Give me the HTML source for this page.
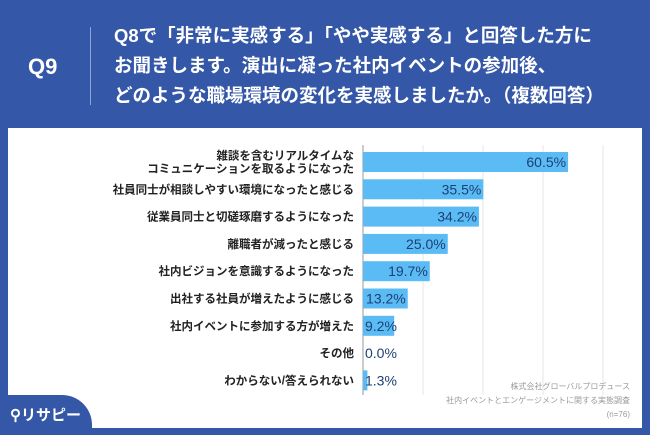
<!DOCTYPE html>
<html><head><meta charset="utf-8"><style>
body{margin:0;width:650px;height:435px;background:#3557a7;position:relative;overflow:hidden;font-family:"Liberation Sans","Noto Sans CJK JP",sans-serif}
.hdr{position:absolute;color:#fff;font-weight:bold}
</style></head><body>
<div class="hdr" style="left:28px;top:54px;font-size:22px">Q9</div>
<div style="position:absolute;left:90px;top:27px;width:1px;height:78px;background:#8fa3d3"></div>
<div class="hdr" style="left:114px;top:21px;font-size:18.5px;line-height:30px;white-space:nowrap">Q8で「非常に実感する」「やや実感する」と回答した方に<br>お聞きします。演出に凝った社内イベントの参加後、<br>どのような職場環境の変化を実感しましたか。（複数回答）</div>
<div style="position:absolute;left:8px;top:128px;width:634px;height:300px;background:#fff"></div>
<svg id="chart" width="650" height="435" style="position:absolute;left:0;top:0"></svg>
<div style="position:absolute;left:0;top:395px;width:92px;height:40px;background:#3557a7;border-top-right-radius:30px"></div>
<div style="position:absolute;left:10px;top:404px;color:#fff;font-size:15px;font-weight:bold">⚲リサピー</div>
<div style="position:absolute;right:20px;top:380px;text-align:right;color:#999;font-size:8px;line-height:14px">株式会社グローバルプロデュース<br>社内イベントとエンゲージメントに関する実態調査<br>(n=76)</div>
<script>
const categories=["雑談を含むリアルタイムな\nコミュニケーションを取るようになった","社員同士が相談しやすい環境になったと感じる","従業員同士と切磋琢磨するようになった","離職者が減ったと感じる","社内ビジョンを意識するようになった","出社する社員が増えたように感じる","社内イベントに参加する方が増えた","その他","わからない/答えられない"];
const values=[60.5,35.5,34.2,25.0,19.7,13.2,9.2,0.0,1.3];
const labels=["60.5%","35.5%","34.2%","25.0%","19.7%","13.2%","9.2%","0.0%","1.3%"];
const gridTicks=[0,17.7,35.4,53.1,70.8];
const svg=document.getElementById('chart');const NS="http://www.w3.org/2000/svg";
const x0=363,k=3.39,y0=152,step=27.3,bh=20;
const xs=v=>x0+v*k, ys=i=>y0+i*step;
function mk(t,a){const e=document.createElementNS(NS,t);for(const n in a)e.setAttribute(n,a[n]);svg.appendChild(e);return e;}
gridTicks.forEach((g,i)=>{const l=mk('line',{x1:xs(g),x2:xs(g),y1:145,y2:395,stroke:i?'#e4e4e4':'#999','stroke-width':1});

});
values.forEach((v,i)=>{
const r=mk('rect',{x:x0,y:ys(i),width:v*k,height:bh,fill:'#5bbcf5'});


const w=v*k;const tx=w>40?xs(v)-2:x0+2;
const t=mk('text',{x:tx,y:ys(i)+bh/2+5,'text-anchor':w>40?'end':'start','font-size':14,fill:'#1d3f73'});t.textContent=labels[i];


const lines=categories[i].split('\n');
lines.forEach((s,j)=>{const c=mk('text',{x:354,y:ys(i)+bh/2+4+(j-(lines.length-1)/2)*13,'text-anchor':'end','font-size':11.5,'font-weight':'bold',fill:'#222'});c.textContent=s;

});
});
</script>
</body></html>
